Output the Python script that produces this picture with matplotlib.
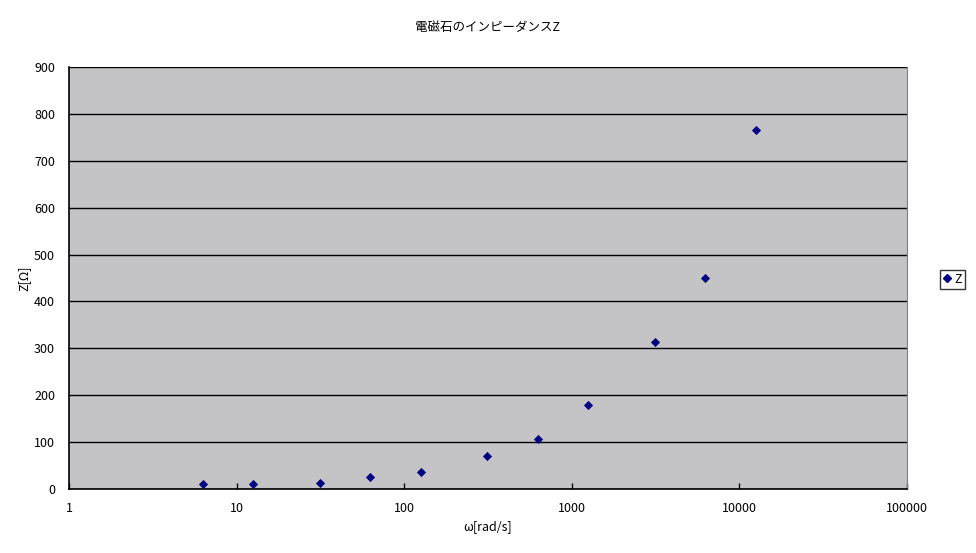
import matplotlib.pyplot as plt
from matplotlib.lines import Line2D

plt.rcParams['font.family'] = ['Noto Sans CJK JP', 'DejaVu Sans']

# angular frequency [rad/s] and impedance [ohm]
omega = [6.28, 12.57, 31.4, 62.8, 125.7, 314.2, 628.3, 1256.6, 3141.6, 6283.2, 12566.4]
z = [10.0, 10.0, 12.2, 25.0, 35.6, 69.7, 106.0, 178.5, 312.9, 449.4, 765.0]

y_ticks = list(range(0, 1000, 100))
x_ticks = [1, 10, 100, 1000, 10000, 100000]
x_tick_labels = ['1', '10', '100', '1000', '10000', '100000']

fig = plt.figure(figsize=(9.76, 5.53), dpi=100)
ax = fig.add_axes([0.0707, 0.1157, 0.8583, 0.7631])
ax.set_facecolor('#c4c4c6')

ax.scatter(omega, z, marker='D', s=22, color='#000080', zorder=3, linewidths=0)

ax.set_xscale('log')
ax.set_xlim(1, 100000)
ax.set_ylim(0, 900)
ax.set_xticks(x_ticks)
ax.set_xticklabels(x_tick_labels)
ax.minorticks_off()
ax.set_yticks(y_ticks)
ax.yaxis.grid(True, color='black', linewidth=1)
ax.set_axisbelow(True)

ax.tick_params(axis='x', direction='in', length=4, width=1, pad=9, labelsize=9)
ax.tick_params(axis='y', length=0, pad=10, labelsize=9)
for side in ['left', 'bottom']:
    ax.spines[side].set_linewidth(1.2)
ax.spines['top'].set_visible(False)
ax.spines['right'].set_color('#808080')

fig.text(0.5, 0.951, '電磁石のインピーダンスZ', ha='center', va='center', fontsize=9)
ax.set_xlabel('ω[rad/s]', fontsize=9, labelpad=4)
ax.set_ylabel('Z[Ω]', fontsize=9, labelpad=3)

handle = Line2D([], [], marker='D', linestyle='none', color='#000080', markersize=4)
leg = fig.legend([handle], ['Z'], loc='center', bbox_to_anchor=(0.976, 0.495),
                 frameon=True, fancybox=False, fontsize=9, handlelength=0.6,
                 handletextpad=0.3, borderpad=0.25, borderaxespad=0)
leg.get_frame().set_edgecolor('black')
leg.get_frame().set_linewidth(1)

fig.savefig('out.png', dpi=100)
